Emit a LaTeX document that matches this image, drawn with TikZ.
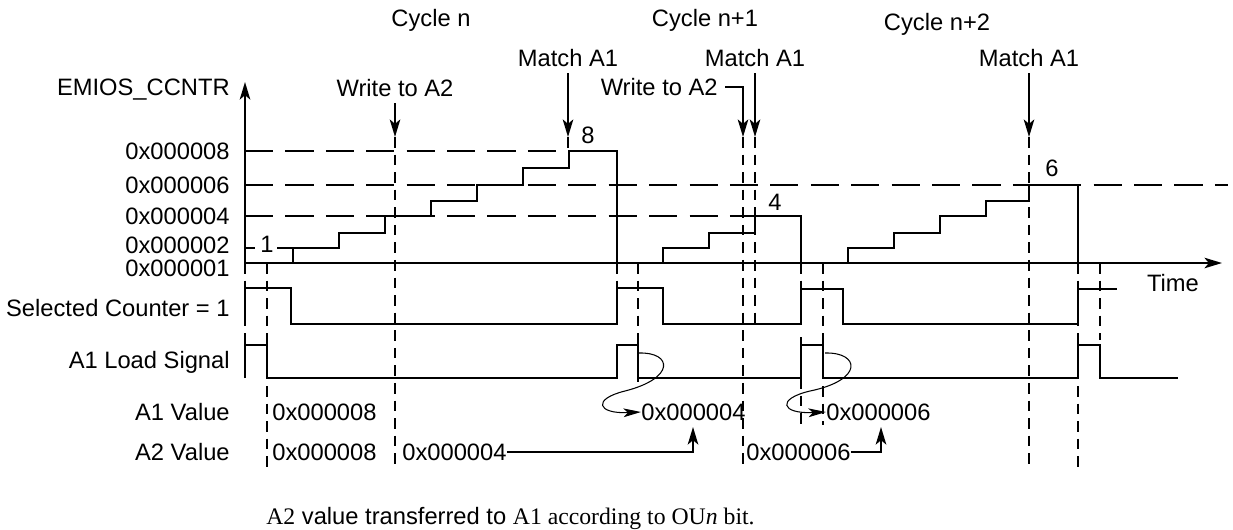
\documentclass[tikz,border=0pt]{standalone}
\usepackage{fontspec}
\setmainfont{Liberation Sans}
\newfontfamily\timesf{Liberation Serif}
\usetikzlibrary{arrows.meta}
\begin{document}
\begin{tikzpicture}[x=0.02cm,y=-0.02cm,
  lab/.style={inner sep=0pt,font=\fontsize{13.5}{16}\selectfont},
  sig/.style={line width=1.1pt},
  vd/.style={line width=1.1pt,dash pattern=on 6pt off 4pt},
  hd/.style={line width=1.1pt,dash pattern=on 16pt off 7pt},
  tip/.style={-{Stealth[length=10pt,width=6pt,inset=2.5pt]}},
  ctip/.style={line width=0.6pt,-{Stealth[length=10pt,width=5pt,inset=2.5pt]}},
  ]
\useasboundingbox (0,0) rectangle (1233,529);

% ---- left labels ----
\node[lab,anchor=east] (ylab) at (230,90) {EMIOS\_CCNTR};
\node[lab,anchor=east] (v8) at (230,151) {0x000008};
\node[lab,anchor=east] (v6) at (230,185) {0x000006};
\node[lab,anchor=east] (v4) at (230,216) {0x000004};
\node[lab,anchor=east] (v2) at (230,245) {0x000002};
\node[lab,anchor=east] (v1) at (230,268) {0x000001};
\node[lab,anchor=east] (sc) at (230,308) {Selected Counter = 1};
\node[lab,anchor=east] (ld) at (230,362) {A1 Load Signal};
\node[lab,anchor=east] (a1) at (230,412) {A1 Value};
\node[lab,anchor=east] (a2) at (230,452) {A2 Value};

% ---- cycle labels ----
\node[lab] (cn) at (431,20) {Cycle n};
\node[lab] (cn1) at (705,20) {Cycle n+1};
\node[lab] (cn2) at (937,24) {Cycle n+2};

% ---- event labels ----
\node[lab] (w1) at (395,88) {Write to A2};
\node[lab] (m1) at (568,58) {Match A1};
\node[lab,anchor=east] (w2) at (718,87) {Write to A2};
\node[lab] (m2) at (755,58) {Match A1};
\node[lab] (m3) at (1029,58) {Match A1};

\coordinate (w1e) at (395,137);
\coordinate (m1e) at (568,137);
\coordinate (w2e) at (743,137);
\coordinate (m2e) at (755,137);
\coordinate (m3e) at (1029,137);
\draw[sig,tip] (w1.south) ++(0,6) -- (w1e);
\draw[sig,tip] (m1.south) ++(0,6) -- (m1e);
\draw[sig,tip] ([xshift=4]w2.east) -| (w2e);
\draw[sig,tip] (m2.south) ++(0,6) -- (m2e);
\draw[sig,tip] (m3.south) ++(0,6) -- (m3e);

% ---- horizontal dashed levels ----
\draw[hd] (245,151) -- (617,151);
\draw[hd] (245,185) -- (1228,185);
\draw[hd] (245,216) -- (755,216);

% ---- vertical dashed lines ----
\draw[vd] (267,263) -- (267,470);
\draw[vd] (w1e) -- (395,470);
\draw[vd] (m1e) -- (568,151);
\draw[vd] (617,263) -- (617,288);
\draw[vd] (638,263) -- (638,345);
\draw[vd] (w2e) -- (743,470);
\draw[vd] (m2e) -- (755,328);
\draw[vd] (801,263) -- (801,289);
\draw[vd] (801,378) -- (801,425);
\draw[vd] (823,263) -- (823,425);
\draw[vd] (m3e) -- (1029,470);
\draw[vd] (1078,263) -- (1078,470);
\draw[vd] (1100,263) -- (1100,340);
\draw[vd] (245,263) -- (245,378);

% ---- axes ----
\coordinate (O) at (245,263);
\coordinate (ytop) at (245,82);
\coordinate (xend) at (1222,263);
\draw[sig,tip] (O) -- (ytop);
\draw[sig,tip] (O) -- (xend);
\node[lab] (time) at (1173,283) {Time};
\draw[sig] (245,248) -- (255,248);

% ---- counter ramps ----
\node[lab] (n1) at (267,244) {1};
\node[lab] (n8) at (588,135) {8};
\node[lab] (n4) at (775,202) {4};
\node[lab] (n6) at (1052,168) {6};
\draw[sig] (293,263) -- (293,248);
\draw[sig] (277,248) -- (339,248) -- (339,233) -- (385,233) -- (385,216)
  -- (431,216) -- (431,201) -- (477,201) -- (477,185) -- (523,185)
  -- (523,168) -- (569,168) -- (569,151) -- (617,151) -- (617,263);
\draw[sig] (663,263) -- (663,248) -- (709,248) -- (709,233) -- (755,233)
  -- (755,216) -- (801,216) -- (801,263);
\draw[sig] (848,263) -- (848,248) -- (894,248) -- (894,233) -- (940,233)
  -- (940,216) -- (986,216) -- (986,201) -- (1029,201) -- (1029,185)
  -- (1078,185) -- (1078,263);

% ---- selected counter signal ----
\draw[sig] (245,320) -- (245,288) -- (291,288) -- (291,324) -- (617,324)
  -- (617,288) -- (663,288) -- (663,324) -- (801,324) -- (801,289)
  -- (843,289) -- (843,324) -- (1078,324) -- (1078,289) -- (1117,289);

% ---- A1 load signal ----
\draw[sig] (245,378) -- (245,345) -- (267,345) -- (267,378) -- (617,378)
  -- (617,345) -- (638,345);
\draw[sig] (638,337) -- (638,382);
\draw[sig] (638,378) -- (801,378);
\draw[sig] (801,337) -- (801,382);
\draw[sig] (801,345) -- (823,345) -- (823,378) -- (1078,378) -- (1078,345)
  -- (1100,345) -- (1100,378) -- (1178,378);

% ---- values ----
\node[lab,anchor=west] (a1v8) at (272,412) {0x000008};
\node[lab,anchor=west] (a1v4) at (641,412) {0x000004};
\node[lab,anchor=west] (a1v6) at (826,412) {0x000006};
\node[lab,anchor=west] (a2v8) at (272,452) {0x000008};
\node[lab,anchor=west] (a2v4) at (402,452) {0x000004};
\node[lab,anchor=west] (a2v6) at (746,452) {0x000006};

\coordinate (t4) at (693,427);
\coordinate (t6) at (881,427);
\draw[sig,tip] (a2v4.east) -| (t4);
\draw[sig,tip] (a2v6.east) -| (t6);

% ---- curved transfer arrows ----
\coordinate (c1s) at (639,353);
\draw[ctip] (c1s) .. controls (672,352) and (676,378) .. (625,391)
  .. controls (592,399) and (597,414) .. (a1v4.west);
\coordinate (c2s) at (825,353);
\draw[ctip] (c2s) .. controls (860,352) and (864,380) .. (810,391)
  .. controls (776,399) and (781,414) .. (a1v6.west);

% ---- caption ----
\node[lab,anchor=west] (cap) at (266,518) {{\timesf A2} value transferred to {\timesf A1 according to OU\textit{n} bit.}};
\end{tikzpicture}
\end{document}
